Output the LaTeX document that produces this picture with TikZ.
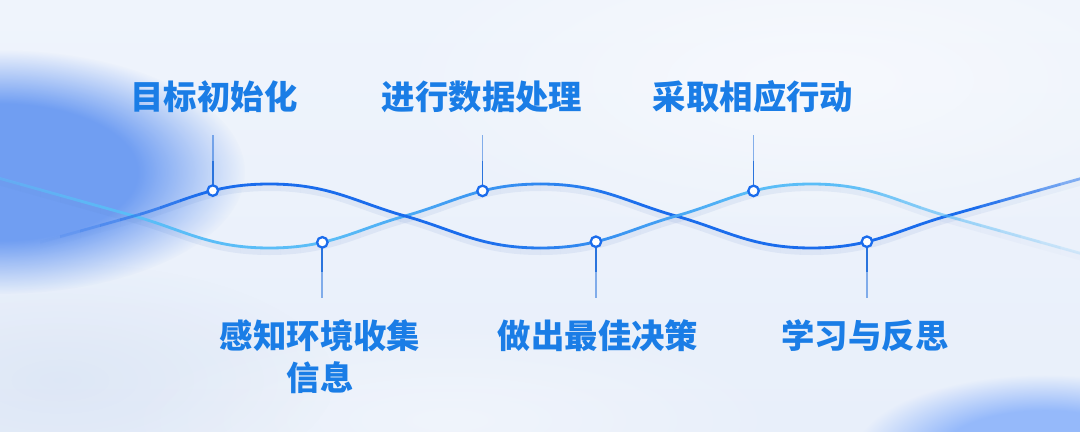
\documentclass[tikz,border=0pt]{standalone}
\usepackage{fontspec}
\newfontfamily\cjk{Noto Sans CJK SC}
\usetikzlibrary{fadings}
\pgfdeclareradialshading{softshade}{\pgfpointorigin}{color(0bp)=(white); color(14bp)=(white); color(25bp)=(black); color(50bp)=(black)}
\pgfdeclarefading{softblob}{\pgfuseshading{softshade}}
\pgfdeclareradialshading{coneshade}{\pgfpointorigin}{color(0bp)=(white); color(25bp)=(black); color(50bp)=(black)}
\pgfdeclarefading{coneblob}{\pgfuseshading{coneshade}}
\definecolor{bgtop}{HTML}{EFF4FC}
\definecolor{bgbot}{HTML}{E8EFFA}
\definecolor{blobL}{HTML}{6A9AF2}
\definecolor{blobR}{HTML}{8DB4FA}
\definecolor{cdark}{HTML}{1A6CEC}
\definecolor{clight}{HTML}{5ABDF7}
\definecolor{shadowcol}{HTML}{5A82C8}
\definecolor{txtcol}{HTML}{1A7DE6}
\definecolor{conncol}{HTML}{2A74DD}
\definecolor{dotcol}{HTML}{1A6CEC}
\tikzset{
  lbl/.style={font=\cjk\bfseries\fontsize{19}{24}\selectfont, align=center, inner sep=0pt, text=txtcol},
  curve/.style={line width=1.6pt, line cap=round},
  conn/.style={draw=conncol, line width=1pt},
  dotnode/.style={circle, draw=dotcol, line width=1.3pt, fill=white, inner sep=0pt, minimum size=0.21cm},
}
\def\pathA{(40,242.3) -- (134,216) .. controls (184,202) and (209.5,184) .. (269.5,184) .. controls (329.5,184) and (355,202) .. (405,216) .. controls (455,230) and (480.5,248) .. (540.5,248) .. controls (600.5,248) and (626,230) .. (676,216) .. controls (726,202) and (751.5,184) .. (811.5,184) .. controls (871.5,184) and (897,202) .. (947,216) -- (1095,257.4)}
\def\pathB{(-10,175.7) -- (134,216) .. controls (184,230) and (209.5,248) .. (269.5,248) .. controls (329.5,248) and (355,230) .. (405,216) .. controls (455,202) and (480.5,184) .. (540.5,184) .. controls (600.5,184) and (626,202) .. (676,216) .. controls (726,230) and (751.5,248) .. (811.5,248) .. controls (871.5,248) and (897,230) .. (947,216) -- (1095,174.6)}
\begin{document}
\begin{tikzpicture}[x=0.02cm, y=-0.02cm]
\useasboundingbox (0,0) rectangle (1080,432);
\clip (0,0) rectangle (1080,432);
% background
\shade[top color=bgtop, bottom color=bgbot] (0,0) rectangle (1080,432);
\fill[white, opacity=0.5, path fading=coneblob, fit fading=true] (820,80) ellipse [x radius=450, y radius=170];
\fill[white, opacity=0.35, path fading=coneblob, fit fading=true] (450,420) ellipse [x radius=350, y radius=100];
\fill[shadowcol, opacity=0.08, path fading=coneblob, fit fading=true] (60,380) ellipse [x radius=280, y radius=120];
\fill[blobL, opacity=0.95, path fading=softblob, fit fading=true] (0,172) ellipse [x radius=245, y radius=122];
\fill[blobR, opacity=0.9, path fading=softblob, fit fading=true] (1045,455) ellipse [x radius=190, y radius=80];
% curves
\foreach \k in {0,...,53}{%
  \pgfmathsetmacro\xa{20*\k}%
  \pgfmathsetmacro\xc{20*\k+10}%
  \pgfmathtruncatemacro\pA{max(0,min(100,(760-\xc)/2.8))}%
  \pgfmathsetmacro\oA{max(0,min(1,(\xc-45)/150))*ifthenelse(\xc>830,1-0.85*(\xc-830)/250,1)}%
  \pgfmathtruncatemacro\pB{max(0,min(100,(\xc-330)/3.1))}%
  \pgfmathsetmacro\oB{min(1,0.45+0.55*\xc/130)*ifthenelse(\xc>970,1-0.55*(\xc-970)/110,1)}%
  \pgfmathsetmacro\sA{0.10*\oA}%
  \pgfmathsetmacro\sB{0.10*\oB}%
  \begin{scope}
    \clip (\xa,-5) rectangle (\xa+20,440);
    \draw[curve, draw=shadowcol, draw opacity=\sA, line width=4pt, yshift=-0.07cm] \pathA;
    \draw[curve, draw=shadowcol, draw opacity=\sB, line width=4pt, yshift=-0.07cm] \pathB;
    \draw[curve, draw=cdark!\pB!clight, draw opacity=\oB] \pathB;
    \draw[curve, draw=cdark!\pA!clight, draw opacity=\oA] \pathA;
  \end{scope}}
% dot positions on the curves
\path (134,216) .. controls (184,202) and (209.5,184) .. (269.5,184) coordinate[pos=0.62] (d1);
\path (269.5,248) .. controls (329.5,248) and (355,230) .. (405,216) coordinate[pos=0.35] (d2);
\path (405,216) .. controls (455,202) and (480.5,184) .. (540.5,184) coordinate[pos=0.61] (d3);
\path (540.5,248) .. controls (600.5,248) and (626,230) .. (676,216) coordinate[pos=0.37] (d4);
\path (676,216) .. controls (726,202) and (751.5,184) .. (811.5,184) coordinate[pos=0.61] (d5);
\path (811.5,248) .. controls (871.5,248) and (897,230) .. (947,216) coordinate[pos=0.37] (d6);
% connectors
\foreach \i in {1,3,5}{%
  \path (d\i) ++(0,-30) coordinate (m\i) ++(0,-26) coordinate (t\i);
  \draw[conn] (d\i) -- (m\i);
  \draw[conn, draw opacity=0.55] (m\i) -- (t\i);}
\foreach \i in {2,4,6}{%
  \path (d\i) ++(0,30) coordinate (m\i) ++(0,26) coordinate (t\i);
  \draw[conn] (d\i) -- (m\i);
  \draw[conn, draw opacity=0.55] (m\i) -- (t\i);}
% dots
\foreach \i in {1,...,6}{\node[dotnode] (n\i) at (d\i) {};}
% labels
\node[lbl] (lab1) at (214,97) {目标初始化};
\node[lbl] (lab3) at (482,97) {进行数据处理};
\node[lbl] (lab5) at (753,97) {采取相应行动};
\node[lbl] (lab2) at (320,356.5) {感知环境收集\\信息};
\node[lbl] (lab4) at (598,336) {做出最佳决策};
\node[lbl] (lab6) at (865,336) {学习与反思};
\end{tikzpicture}
\end{document}
